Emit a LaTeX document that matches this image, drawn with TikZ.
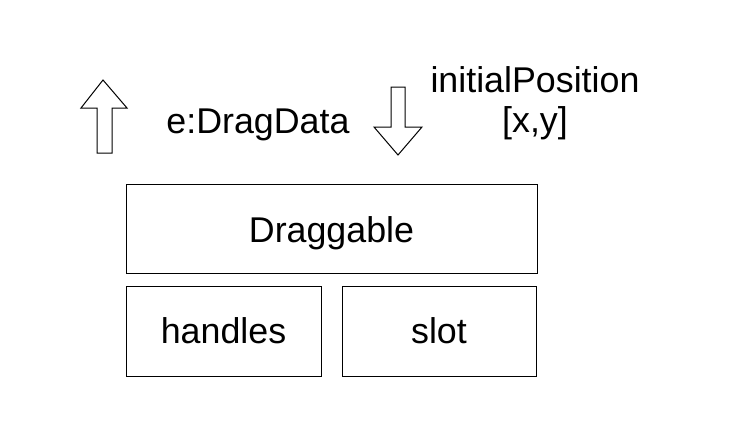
\documentclass[tikz,border=0pt]{standalone}
\usepackage{fontspec}
\setmainfont{Liberation Sans}
\begin{document}
\begin{tikzpicture}[x=1pt,y=-1pt,line width=1pt,
  lbl/.style={font=\fontsize{35.8}{40}\selectfont,anchor=base,inner sep=0pt},
  box/.style={draw,black}]
\useasboundingbox (0,0) rectangle (736,429);
% boxes
\draw[box] (126,184) rectangle (537,273);
\draw[box] (126,286) rectangle (321,376);
\draw[box] (342,286) rectangle (536,376);
\node[lbl] (drag) at (331.5,242) {Draggable};
\node[lbl] (handles) at (223.5,343) {handles};
\node[lbl] (slot) at (439,343) {slot};
% texts
\node[lbl] (edata) at (258,133) {e:DragData};
\node[lbl] (init) at (535,92) {initialPosition};
\node[lbl] (xy) at (535,132) {[x,y]};
% up arrow
\draw[line join=miter] (103,80) -- (127,108) -- (112,108) -- (112,153) -- (97,153) -- (97,108) -- (81,108) -- cycle;
% down arrow
\draw[line join=miter] (391,87) -- (405,87) -- (405,127) -- (422,127) -- (398,155) -- (374,127) -- (391,127) -- cycle;
\end{tikzpicture}
\end{document}
